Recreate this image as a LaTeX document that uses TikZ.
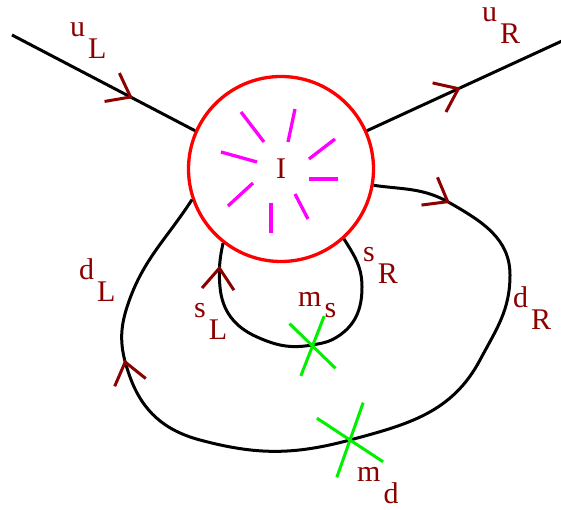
\documentclass[tikz,border=0pt]{standalone}
\usepackage{fontspec}
\setmainfont{Liberation Serif}
\usetikzlibrary{arrows.meta,decorations.markings,shapes.misc}
\definecolor{lblred}{RGB}{140,0,0}
\definecolor{sparkpink}{RGB}{255,0,255}
\definecolor{massgreen}{RGB}{0,240,0}
\newcommand{\lbl}[3][0.72em]{#2\hspace{3pt}\raisebox{-#1}{#3}}

\begin{document}
\begin{tikzpicture}[x=1pt, y=1pt,
    quark/.style={draw=black, line width=3pt},
    flow at/.style={postaction={decorate, decoration={markings, mark=at position #1 with {\arrow[lblred]{Straight Barb[length=21pt, width=32pt, line width=3pt]}}}}},
    blob/.style={circle, draw=red, line width=3.3pt, minimum size=185pt, inner sep=0pt, text=lblred, font=\fontsize{30}{36}\selectfont},
    spark/.style={draw=sparkpink, line width=3.3pt},
    mass/.style={cross out, draw=massgreen, line width=3pt, inner sep=0pt},
    lab/.style={text=lblred, font=\fontsize{30}{36}\selectfont, inner sep=0pt, anchor=base west}
]
\useasboundingbox (0,0) rectangle (561,510);

% the blob
\node[blob] (I) at (281,341) {I};
\foreach \xa/\ya/\xb/\yb in {241/398/264/368, 295/401/288/368, 335/371/309/351, 309/331/338/331,
    295/316/308/291, 271/307/271/277, 253/327/228/304, 221/358/257/348}
  \draw[spark] (\xa,\ya) -- (\xb,\yb);

% external quarks
\coordinate (uLin) at (12,475);
\coordinate (uRout) at (562,469);
\draw[quark, flow at=0.66] (uLin) -- (I.156);
\draw[quark, flow at=0.48] (I.24) -- (uRout);

% d loop
\draw[quark, flow at=0.09, flow at=0.795] (I.-10) to[out=-8, in=150] (450,307) to[out=-30, in=90] (510,235)
    to[out=-90, in=62] (480,150) to[out=-118, in=15] (350,70) to[out=-165, in=-15] (200,70)
    to[out=165, in=-70] (130,133) to[out=110, in=-108] (127,203) to[out=72, in=-123] (I.199);

% s loop
\draw[quark, flow at=0.925] (I.312) to[out=-58, in=90] (362,223) to[out=-90, in=32] (337,173)
    to[out=-148, in=10] (312,165) to[out=-170, in=-24] (257,173) to[out=156, in=-85] (220,223)
    to[out=95, in=-102] (I.232);

% mass insertions
\node[mass, minimum width=50.5pt, minimum height=32.5pt, rotate=-77.75] (ms) at (312.5,164) {};
\node[mass, minimum width=59.4pt, minimum height=45.8pt, rotate=-71.4] (md) at (350,70) {};

% labels
\node[lab] (uL) at (70,473) {\lbl{u}{L}};
\node[lab] (uR) at (482,488) {\lbl{u}{R}};
\node[lab] (dL) at (79,230) {\lbl{d}{L}};
\node[lab] (dR) at (513,202) {\lbl{d}{R}};
\node[lab] (sL) at (194,192) {\lbl{s}{L}};
\node[lab] (sR) at (363,248) {\lbl{s}{R}};
\node[lab] (msl) at (298,203) {\lbl[0.35em]{m}{s}};
\node[lab] (mdl) at (357,28) {\lbl{m}{d}};
\end{tikzpicture}
\end{document}
